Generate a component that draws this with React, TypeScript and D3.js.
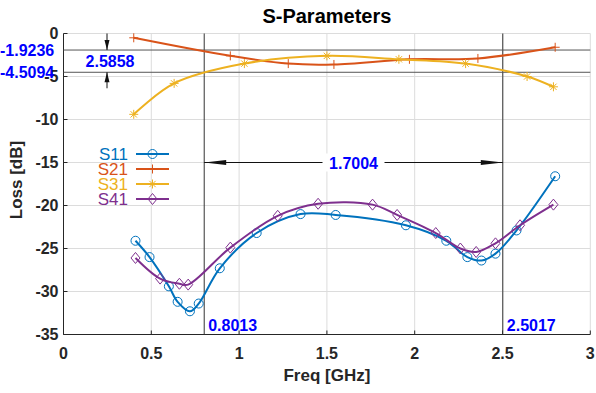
import React from "react";
import * as d3 from "d3";

const xTicks = [0, 0.5, 1, 1.5, 2, 2.5, 3];
const yTicks = [0, -5, -10, -15, -20, -25, -30, -35];

const s11X = [0.41, 0.49, 0.6, 0.65, 0.72, 0.77, 0.89, 1.1, 1.35, 1.55, 1.95, 2.18, 2.3, 2.38, 2.46, 2.58, 2.8];
const s11Y = [-24.1, -26.0, -29.4, -31.2, -32.3, -31.4, -27.3, -23.2, -21.0, -21.1, -22.3, -24.1, -26.0, -26.4, -25.6, -22.9, -16.6];

const s21X = [0.4, 0.95, 1.28, 1.54, 1.97, 2.36, 2.8];
const s21Y = [-0.5, -2.6, -3.5, -3.6, -3.0, -2.9, -1.6];

const s31X = [0.4, 0.63, 1.03, 1.5, 1.91, 2.29, 2.64, 2.79];
const s31Y = [-9.4, -5.8, -3.5, -2.6, -3.0, -3.5, -5.0, -6.2];

const s41X = [0.41, 0.55, 0.66, 0.71, 0.95, 1.22, 1.45, 1.76, 1.9, 2.12, 2.26, 2.35, 2.46, 2.6, 2.79];
const s41Y = [-26.1, -28.5, -29.1, -29.2, -24.9, -21.2, -19.8, -19.9, -21.1, -23.2, -25.0, -25.4, -24.4, -22.3, -19.9];

const seriesNames = ["S11", "S21", "S31", "S41"];
const seriesColors = ["#0072BD", "#D95319", "#EDB120", "#7E2F8E"];
const seriesMarkers = ["circle", "plus", "star", "diamond"];

const markerX = [0.8013, 2.5017];
const markerY = [-1.9236, -4.5094];
const dxLabel = "1.7004";
const dyLabel = "2.5858";

const FONT = "'Liberation Sans', Arial, Helvetica, sans-serif";

function Marker({ type, x, y, color }: { type: string; x: number; y: number; color: string }) {
  const s = 4.5;
  if (type === "circle") return <circle cx={x} cy={y} r={s} fill="none" stroke={color} strokeWidth={1} />;
  if (type === "plus")
    return (
      <path d={`M${x - s},${y}H${x + s}M${x},${y - s}V${y + s}`} stroke={color} strokeWidth={1} />
    );
  if (type === "star") {
    const k = s * 0.7;
    return (
      <path
        d={`M${x - s},${y}H${x + s}M${x},${y - s}V${y + s}M${x - k},${y - k}L${x + k},${y + k}M${x - k},${y + k}L${x + k},${y - k}`}
        stroke={color}
        strokeWidth={1}
      />
    );
  }
  return (
    <path d={`M${x},${y - s - 1}L${x + s},${y}L${x},${y + s + 1}L${x - s},${y}Z`} fill="none" stroke={color} strokeWidth={1} />
  );
}

export default function App() {
  const W = 596, H = 393;
  const L = 63.5, R = 590.3, T = 33.5, B = 334.5;
  const x = d3.scaleLinear().domain([0, 3]).range([L, R]);
  const y = d3.scaleLinear().domain([0, -35]).range([T, B]);

  const allX = [s11X, s21X, s31X, s41X];
  const allY = [s11Y, s21Y, s31Y, s41Y];

  const line = d3
    .line<[number, number]>()
    .x((d) => x(d[0]))
    .y((d) => y(d[1]))
    .curve(d3.curveCatmullRom.alpha(0.5));

  const mx0 = x(markerX[0]), mx1 = x(markerX[1]);
  const my0 = y(markerY[0]), my1 = y(markerY[1]);
  const arrowY = y(-15);
  const vArrowX = 107;
  const blue = "#0000FF";

  const legendY0 = 154;
  return (
    <div style={{ position: "absolute", left: 0, top: 0 }}>
      <svg width={W} height={H} style={{ display: "block", background: "#fff" }}>
        <rect x={0} y={0} width={W} height={H} fill="#fff" />
        {/* grid */}
        {xTicks.map((t) => (
          <line key={"gx" + t} x1={x(t)} x2={x(t)} y1={T} y2={B} stroke="#dcdcdc" strokeWidth={1} />
        ))}
        {yTicks.map((t) => (
          <line key={"gy" + t} x1={L} x2={R} y1={y(t)} y2={y(t)} stroke="#dcdcdc" strokeWidth={1} />
        ))}
        {/* axes */}
        <line x1={L} x2={L} y1={T} y2={B} stroke="#262626" strokeWidth={1} />
        <line x1={L} x2={R} y1={B} y2={B} stroke="#262626" strokeWidth={1} />
        {xTicks.map((t) => (
          <line key={"tx" + t} x1={x(t)} x2={x(t)} y1={B} y2={B - 4} stroke="#262626" />
        ))}
        {yTicks.map((t) => (
          <line key={"ty" + t} x1={L} x2={L + 4} y1={y(t)} y2={y(t)} stroke="#262626" />
        ))}
        {xTicks.map((t) => (
          <text key={"lx" + t} x={x(t)} y={359} textAnchor="middle" fontFamily={FONT} fontWeight="bold" fontSize={16} fill="#262626">
            {String(t)}
          </text>
        ))}
        {yTicks.map((t) => (
          <text key={"ly" + t} x={L - 5} y={y(t) + 5.5} textAnchor="end" fontFamily={FONT} fontWeight="bold" fontSize={16} fill="#262626">
            {String(t)}
          </text>
        ))}
        <text x={(L + R) / 2} y={23} textAnchor="middle" fontFamily={FONT} fontWeight="bold" fontSize={20} fill="#000">
          S-Parameters
        </text>
        <text x={(L + R) / 2} y={381} textAnchor="middle" fontFamily={FONT} fontWeight="bold" fontSize={17} fill="#262626">
          Freq [GHz]
        </text>
        <text transform={`translate(22,${180}) rotate(-90)`} textAnchor="middle" fontFamily={FONT} fontWeight="bold" fontSize={17} fill="#262626">
          Loss [dB]
        </text>

        {/* cursor lines */}
        <line x1={mx0} x2={mx0} y1={T} y2={B} stroke="#333" strokeWidth={1} />
        <line x1={mx1} x2={mx1} y1={T} y2={B} stroke="#333" strokeWidth={1} />
        <line x1={L} x2={R} y1={my0} y2={my0} stroke="#555" strokeWidth={1} />
        <line x1={L} x2={R} y1={my1} y2={my1} stroke="#555" strokeWidth={1} />

        {/* series */}
        {allX.map((xs, i) => {
          const pts = xs.map((v, j) => [v, allY[i][j]] as [number, number]);
          return (
            <g key={seriesNames[i]}>
              <path d={line(pts) || ""} fill="none" stroke={seriesColors[i]} strokeWidth={2} />
              {pts.map((p, j) => (
                <Marker key={j} type={seriesMarkers[i]} x={x(p[0])} y={y(p[1])} color={seriesColors[i]} />
              ))}
            </g>
          );
        })}

        {/* horizontal distance annotation */}
        <line x1={mx0} x2={mx1} y1={arrowY} y2={arrowY} stroke="#111" strokeWidth={1} />
        <path d={`M${mx0},${arrowY}L${mx0 + 22},${arrowY - 2.5}L${mx0 + 22},${arrowY + 2.5}Z`} fill="#111" />
        <path d={`M${mx1},${arrowY}L${mx1 - 22},${arrowY - 2.5}L${mx1 - 22},${arrowY + 2.5}Z`} fill="#111" />
        <rect x={(mx0 + mx1) / 2 - 31} y={arrowY - 9} width={62} height={18} fill="#fff" />
        <text x={(mx0 + mx1) / 2} y={arrowY + 6} textAnchor="middle" fontFamily={FONT} fontWeight="bold" fontSize={16} fill={blue}>
          {dxLabel}
        </text>

        {/* vertical distance annotation */}
        <line x1={vArrowX} x2={vArrowX} y1={T} y2={my0} stroke="#111" strokeWidth={1} />
        <path d={`M${vArrowX},${my0}L${vArrowX - 2.5},${my0 - 10}L${vArrowX + 2.5},${my0 - 10}Z`} fill="#111" />
        <line x1={vArrowX} x2={vArrowX} y1={my1} y2={my1 + 16} stroke="#111" strokeWidth={1} />
        <path d={`M${vArrowX},${my1}L${vArrowX - 2.5},${my1 + 10}L${vArrowX + 2.5},${my1 + 10}Z`} fill="#111" />
        <text x={110} y={(my0 + my1) / 2 + 6} textAnchor="middle" fontFamily={FONT} fontWeight="bold" fontSize={16} fill={blue}>
          {dyLabel}
        </text>

        {/* value labels */}
        <text x={0} y={my0 + 6} fontFamily={FONT} fontWeight="bold" fontSize={16} fill={blue}>
          {String(markerY[0])}
        </text>
        <text x={0} y={my1 + 6} fontFamily={FONT} fontWeight="bold" fontSize={16} fill={blue}>
          {String(markerY[1])}
        </text>
        <text x={mx0 + 4} y={B - 4} fontFamily={FONT} fontWeight="bold" fontSize={16} fill={blue}>
          {String(markerX[0])}
        </text>
        <text x={mx1 + 4} y={B - 4} fontFamily={FONT} fontWeight="bold" fontSize={16} fill={blue}>
          {String(markerX[1])}
        </text>

        {/* legend */}
        {seriesNames.map((n, i) => {
          const ly = legendY0 + i * 15;
          return (
            <g key={"lg" + n}>
              <text x={128} y={ly + 6} textAnchor="end" fontFamily={FONT} fontSize={17} fill={seriesColors[i]}>
                {n}
              </text>
              <line x1={136} x2={169} y1={ly} y2={ly} stroke={seriesColors[i]} strokeWidth={2} />
              <Marker type={seriesMarkers[i]} x={152.5} y={ly} color={seriesColors[i]} />
            </g>
          );
        })}
      </svg>
    </div>
  );
}
